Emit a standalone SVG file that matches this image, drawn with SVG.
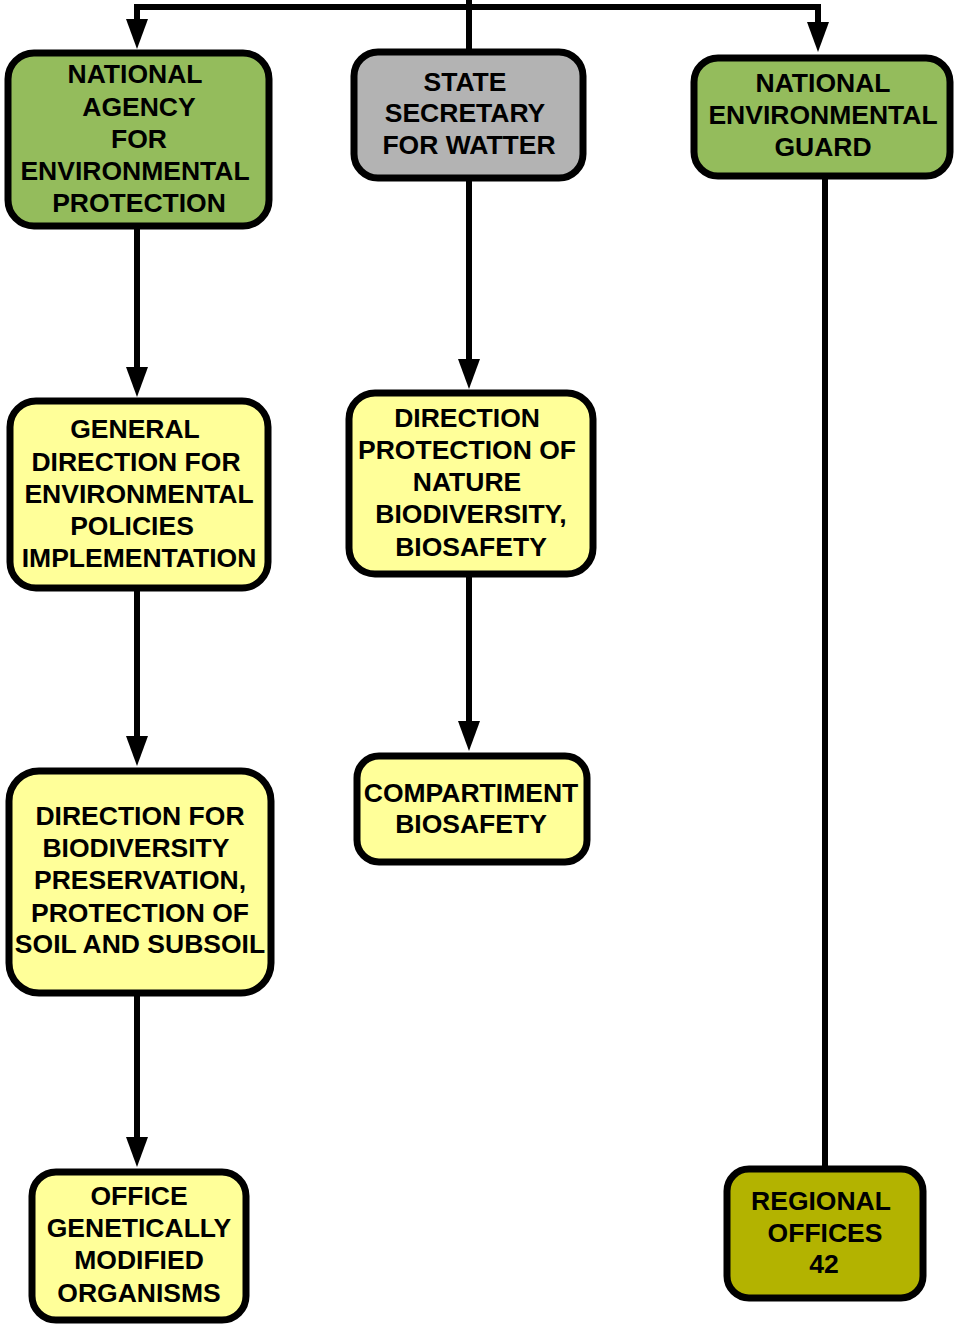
<svg xmlns="http://www.w3.org/2000/svg" width="955" height="1326" viewBox="0 0 955 1326">
<style>
.box{stroke:#000;stroke-width:7}
.green{fill:#94bc5c}
.gray{fill:#b3b3b3}
.yellow{fill:#ffff99}
.olive{fill:#b3b300}
text{font-family:"Liberation Sans",Arial,sans-serif;font-weight:bold;font-size:26.5px;text-anchor:middle;fill:#000}
.conn{fill:none;stroke:#000;stroke-width:6}
</style>
<defs>
<marker id="arr" viewBox="0 -11 30 22" refX="1" refY="0" markerWidth="30" markerHeight="22" markerUnits="userSpaceOnUse" orient="auto">
<path d="M0,-11 L30,0 L0,11 z" fill="#000"/>
</marker>
</defs>
<g id="connectors">
<path class="conn" d="M469,0 V52"/>
<path class="conn" d="M472,7 H137 V20" marker-end="url(#arr)"/>
<path class="conn" d="M466,7 H818 V23" marker-end="url(#arr)"/>
<path class="conn" d="M137,226 V368" marker-end="url(#arr)"/>
<path class="conn" d="M469,178 V360" marker-end="url(#arr)"/>
<path class="conn" d="M469,574 V722" marker-end="url(#arr)"/>
<path class="conn" d="M137,588 V737" marker-end="url(#arr)"/>
<path class="conn" d="M137,993 V1138" marker-end="url(#arr)"/>
<path class="conn" d="M825,176 V1169"/>
</g>
<g id="national-agency">
<rect class="box green" x="8" y="53" width="261" height="173" rx="26"/>
<text x="135" y="83">NATIONAL</text>
<text x="139" y="115.5">AGENCY</text>
<text x="139" y="147.5">FOR</text>
<text x="135" y="180">ENVIRONMENTAL</text>
<text x="139" y="212">PROTECTION</text>
</g>
<g id="state-secretary">
<rect class="box gray" x="354" y="52" width="229" height="126" rx="24"/>
<text x="465" y="91">STATE</text>
<text x="465" y="122">SECRETARY</text>
<text x="469" y="154">FOR WATTER</text>
</g>
<g id="national-guard">
<rect class="box green" x="694" y="58" width="256" height="118" rx="24"/>
<text x="823" y="92">NATIONAL</text>
<text x="823" y="124">ENVIRONMENTAL</text>
<text x="823" y="156">GUARD</text>
</g>
<g id="general-direction">
<rect class="box yellow" x="10" y="401" width="258" height="187" rx="26"/>
<text x="135" y="438">GENERAL</text>
<text x="136" y="470.5">DIRECTION FOR</text>
<text x="139" y="502.5">ENVIRONMENTAL</text>
<text x="132" y="535">POLICIES</text>
<text x="139" y="566.5">IMPLEMENTATION</text>
</g>
<g id="direction-protection">
<rect class="box yellow" x="349" y="393" width="244" height="181" rx="26"/>
<text x="467" y="427">DIRECTION</text>
<text x="467" y="459">PROTECTION OF</text>
<text x="467" y="491">NATURE</text>
<text x="471" y="523">BIODIVERSITY,</text>
<text x="471" y="556">BIOSAFETY</text>
</g>
<g id="compartiment">
<rect class="box yellow" x="357" y="756" width="230" height="106" rx="22"/>
<text x="471" y="801.5">COMPARTIMENT</text>
<text x="471" y="833">BIOSAFETY</text>
</g>
<g id="direction-biodiversity">
<rect class="box yellow" x="9" y="771" width="262" height="222" rx="30"/>
<text x="140" y="825">DIRECTION FOR</text>
<text x="136" y="857">BIODIVERSITY</text>
<text x="140" y="889">PRESERVATION,</text>
<text x="140" y="921.5">PROTECTION OF</text>
<text x="140" y="953">SOIL AND SUBSOIL</text>
</g>
<g id="office-gmo">
<rect class="box yellow" x="32" y="1172" width="214" height="148" rx="24"/>
<text x="139" y="1205">OFFICE</text>
<text x="139" y="1237">GENETICALLY</text>
<text x="139" y="1269">MODIFIED</text>
<text x="139" y="1301.5">ORGANISMS</text>
</g>
<g id="regional-offices">
<rect class="box olive" x="727" y="1169" width="196" height="129" rx="22"/>
<text x="821" y="1210">REGIONAL</text>
<text x="825" y="1241.5">OFFICES</text>
<text x="824" y="1273">42</text>
</g>
</svg>
